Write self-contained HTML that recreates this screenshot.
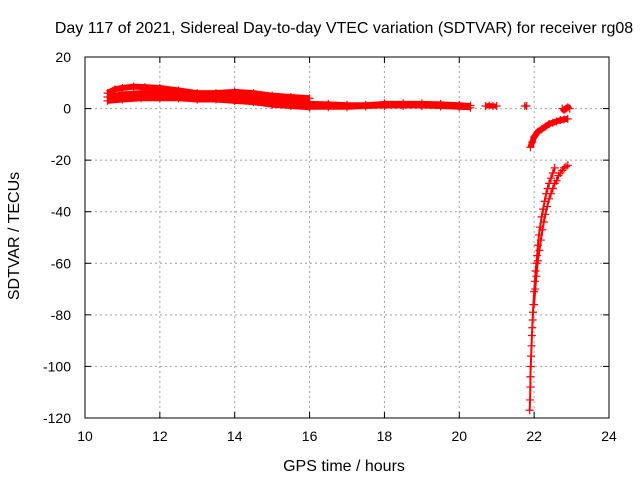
<!DOCTYPE html>
<html><head><meta charset="utf-8"><style>
body{margin:0;background:#fff}
svg{display:block;font-family:"Liberation Sans",Arial,sans-serif}
</style></head><body>
<svg id="chart" width="640" height="480">
<rect width="640" height="480" fill="#fff"/>
<text x="344" y="33" font-size="16" text-anchor="middle">Day 117 of 2021, Sidereal Day-to-day VTEC variation (SDTVAR) for receiver rg08</text>
<text transform="translate(19,236) rotate(-90)" font-size="16" text-anchor="middle">SDTVAR / TECUs</text>
<text x="344" y="471" font-size="16" text-anchor="middle">GPS time / hours</text>
<g id="grid"></g><g id="ticks"></g><g id="marks"></g>
<rect x="85" y="57" width="524" height="361" fill="none" stroke="#000" stroke-width="1"/>
</svg>
<script>
const xTicks=[10,12,14,16,18,20,22,24];
const yTicks=[20,0,-20,-40,-60,-80,-100,-120];
const bandUpperT=[10.6,10.8,11,11.3,11.6,12,12.5,13,13.5,14,14.5,15,15.5,16];
const bandUpperV=[6,7.5,8,8.5,8.3,8,7,6,6,6.5,6,5,4.5,4];
const bandMidT=[10.6,11,11.5,12,12.5,13,13.5,14,14.5,15,15.5,16];
const bandMidV=[4.5,5.5,6,6,5.5,5,5,5,4.5,3.5,3,2.5];
const bandLowerT=[10.6,11,11.5,12,12.5,13,13.5,14,14.5,15,15.5,16];
const bandLowerV=[3,3.5,4,4,4,3.5,3.5,3,2.5,1.5,1,0.5];
const midUpperT=[16,16.5,17,17.5,18,18.5,19,19.5,20,20.3];
const midUpperV=[2,1.8,1.5,1.5,2,2,2,1.8,1.5,1.2];
const midLowerT=[16,16.5,17,17.5,18,18.5,19,19.5,20,20.3];
const midLowerV=[0.5,0.5,0.5,0.8,1,1,1,0.8,0.5,0.3];
const shortT=[20.7,20.8,20.9,21.0];
const shortV=[1,1.2,1,1];
const dotT=[21.75,21.8];
const dotV=[1,1];
const endT=[22.75,22.8,22.85,22.9,22.95];
const endV=[0,-0.5,0,0.5,0];
const hookT=[21.9,21.95,22.0,22.1,22.2,22.3,22.4,22.5,22.6,22.7,22.8,22.9];
const hookV=[-15,-13,-11,-9,-8,-7,-6,-5.5,-5,-4.5,-4.2,-4];
const deepAT=[21.88,21.89,21.9,21.9,21.91,21.92,21.93,21.94,21.95,21.96,21.97,21.98,22.0,22.02,22.04,22.06,22.08,22.1,22.13,22.16,22.2,22.24,22.28,22.32,22.36,22.4,22.45,22.5,22.55];
const deepAV=[-117,-113,-108,-104,-100,-96,-92,-88,-85,-82,-79,-76,-71,-67,-63,-60,-57,-53,-49,-46,-42,-39,-36,-33,-31,-29,-27,-25,-23];
const deepBT=[22.0,22.03,22.06,22.1,22.14,22.18,22.22,22.26,22.3,22.35,22.4,22.45,22.5,22.55,22.6,22.65,22.7,22.75,22.8,22.85,22.9];
const deepBV=[-76,-70,-65,-59,-55,-51,-47,-44,-41,-38,-35,-33,-31,-29,-28,-26,-25,-24,-23,-22.5,-22];

const X0=85,X1=609,Y0=418,Y1=57;
const xs=t=>X0+(t-10)/14*(X1-X0);
const ys=v=>Y0-(v+120)/140*(Y0-Y1);
const NS='http://www.w3.org/2000/svg';
const grid=document.getElementById('grid'),ticks=document.getElementById('ticks'),marks=document.getElementById('marks');
function mk(tag,attrs,parent){const e=document.createElementNS(NS,tag);for(const k in attrs)e.setAttribute(k,attrs[k]);parent.appendChild(e);return e;}
xTicks.forEach(t=>{const x=xs(t);
 if(t>10&&t<24){const g=mk('line',{x1:x,x2:x,y1:Y0,y2:Y1,stroke:'#a0a0a0','stroke-dasharray':'2,3'},grid);
 
 }
 mk('line',{x1:x,x2:x,y1:Y0,y2:Y0-6,stroke:'#000'},ticks);mk('line',{x1:x,x2:x,y1:Y1,y2:Y1+6,stroke:'#000'},ticks);
 const l=mk('text',{x:x,y:Y0+23,'font-size':14,'text-anchor':'middle'},ticks);l.textContent=t;
 
 });
yTicks.forEach(v=>{const y=ys(v);
 if(v>-120&&v<20){const g=mk('line',{x1:X0,x2:X1,y1:y,y2:y,stroke:'#a0a0a0','stroke-dasharray':'2,3'},grid);
 
 }
 mk('line',{x1:X0,x2:X0+6,y1:y,y2:y,stroke:'#000'},ticks);mk('line',{x1:X1,x2:X1-6,y1:y,y2:y,stroke:'#000'},ticks);
 const l=mk('text',{x:X0-14,y:y+5,'font-size':14,'text-anchor':'end'},ticks);l.textContent=v;
 
 });
function series(T,V,name,w){
 if(w>0&&T.length>1){const p=mk('polyline',{points:T.map((t,i)=>xs(t)+','+ys(V[i])).join(' '),fill:'none',stroke:'#f00','stroke-width':w,'stroke-linejoin':'round'},marks);
 
 }
 T.forEach((t,i)=>{const x=xs(t),y=ys(V[i]);
  const m=mk('path',{d:`M${x-4},${y}h8M${x},${y-4}v8`,stroke:'#f00','stroke-width':1.2},marks);
  
  });
}
series(bandUpperT,bandUpperV,'track-upper',6);
series(bandMidT,bandMidV,'track-middle',6);
series(bandLowerT,bandLowerV,'track-lower',6);
series(midUpperT,midUpperV,'track-mid-upper',5);
series(midLowerT,midLowerV,'track-mid-lower',5);
series(shortT,shortV,'track-short',5);
series(dotT,dotV,'track-dot',4);
series(endT,endV,'track-end',6);
series(hookT,hookV,'track-hook',6);
series(deepAT,deepAV,'track-deep-a',2);
series(deepBT,deepBV,'track-deep-b',2);
</script>
</body></html>
